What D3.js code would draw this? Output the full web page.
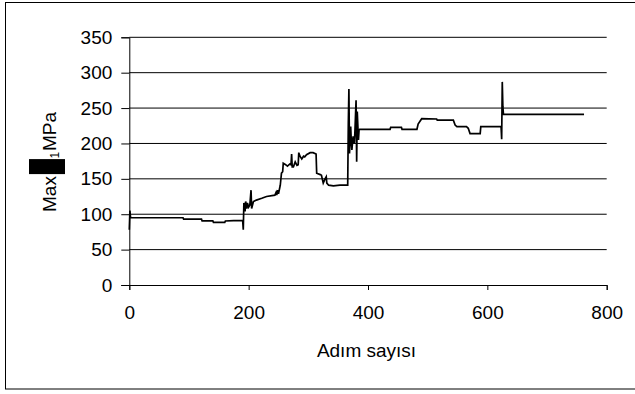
<!DOCTYPE html>
<html>
<head>
<meta charset="utf-8">
<script src="https://cdn.jsdelivr.net/npm/d3@7"></script>
<style>
  html, body { margin: 0; padding: 0; background: #fff; }
  svg { display: block; font-family: "Liberation Sans", Arial, sans-serif; }
</style>
</head>
<body>
<svg id="chart" width="635" height="394"></svg>
<script>
// Step number (Adım) and the maximum principal stress (MPa) at that step
const steps = [
  0, 1, 2, 3, 90, 91, 121, 122, 140, 141, 160, 161, 175, 190,
  191, 192, 194, 195, 197, 198, 200, 202, 204, 205, 208, 213, 222, 230,
  244, 246, 247, 249, 250, 252, 253, 255, 257, 258, 262, 265, 269, 271,
  272, 273, 275, 278, 281, 283, 284, 286, 289, 292, 294, 297, 303, 308,
  313, 314, 320, 322, 325, 328, 330, 331, 334, 342, 353, 366,
  367, 368, 369, 371, 372, 373, 375, 377, 378, 380, 381, 382, 384, 385,
  386, 437, 438, 456, 457, 482, 484, 490, 515, 516, 543, 546, 549, 565,
  568, 571, 588, 589, 623, 624, 625, 626, 627, 762
];
const stress = [
  78, 105, 96, 95, 95, 93, 93, 90.5, 90.5, 88.6, 88.6, 90.5, 91, 91,
  78, 116, 104, 118, 108, 116, 110, 113, 134, 108, 118, 120, 122.5, 125,
  127, 131, 127, 134, 129, 137, 141, 158, 160, 172, 170, 168, 171, 170,
  185, 167, 167, 174, 169, 170, 187, 182, 178, 182, 181, 184, 187, 187,
  185, 158, 156, 155, 144, 150, 153, 144, 141, 140, 141, 141,
  228, 277, 186, 224, 203, 191, 210, 200, 215, 261, 174, 245, 205, 219,
  220, 220, 222.8, 222.8, 220, 220, 227.5, 235, 234.6, 233, 233, 226, 223.7, 223.7,
  221.4, 214, 214, 223.7, 223.7, 206, 287, 252, 241, 241
];
const xTicks = [0, 200, 400, 600, 800];
const yTicks = [0, 50, 100, 150, 200, 250, 300, 350];
const xTitle = "Adım sayısı";
const yTitleParts = ["Max", "1", "MPa"];

const svg = d3.select("#chart");
const fontSize = 19;

// Outer frame of the chart area
svg.append("rect")
  .attr("x", 5.5).attr("y", 2.5)
  .attr("width", 700).attr("height", 386.5)
  .attr("fill", "none").attr("stroke", "#000").attr("stroke-width", 1);

const x = d3.scaleLinear().domain([0, 800]).range([129.3, 606.7]);
const y = d3.scaleLinear().domain([0, 350]).range([285, 37.3]);

// Horizontal gridlines
svg.append("g")
  .selectAll("line")
  .data(yTicks.filter(v => v > 0))
  .join("line")
  .attr("x1", x(0)).attr("x2", x(800))
  .attr("y1", d => y(d)).attr("y2", d => y(d))
  .attr("stroke", "#000").attr("stroke-width", 1);

// Y axis
const yAxis = svg.append("g")
  .attr("transform", `translate(${x(0)},0)`)
  .call(d3.axisLeft(y).tickValues(yTicks).tickSize(8).tickPadding(9).tickFormat(d3.format("d")));
yAxis.select(".domain").attr("stroke", "#000");
yAxis.selectAll(".tick line").attr("stroke", "#000");
yAxis.selectAll("text")
  .attr("font-size", fontSize).attr("fill", "#000")
  .attr("font-family", "Liberation Sans, Arial, sans-serif");

// X axis
const xAxis = svg.append("g")
  .attr("transform", `translate(0,${y(0)})`)
  .call(d3.axisBottom(x).tickValues(xTicks).tickSize(5).tickPadding(16).tickFormat(d3.format("d")));
xAxis.select(".domain").attr("stroke", "#000");
xAxis.selectAll(".tick line").attr("stroke", "#000");
xAxis.selectAll("text")
  .attr("font-size", fontSize).attr("fill", "#000")
  .attr("font-family", "Liberation Sans, Arial, sans-serif");

// Stress history line
const data = steps.map((s, i) => [s, stress[i]]);
svg.append("path")
  .datum(data)
  .attr("fill", "none")
  .attr("stroke", "#000")
  .attr("stroke-width", 1.7)
  .attr("stroke-linejoin", "miter")
  .attr("d", d3.line().x(d => x(d[0])).y(d => y(d[1])));

// X axis title
svg.append("text")
  .attr("x", 366.5).attr("y", 357)
  .attr("text-anchor", "middle")
  .attr("font-size", fontSize)
  .attr("fill", "#000")
  .text(xTitle);

// Y axis title: "Max", a filled symbol block, subscript "1", then "MPa"
const yt = svg.append("g").attr("transform", "translate(56,212) rotate(-90)");
const maxText = yt.append("text")
  .attr("x", 0).attr("y", 0)
  .attr("font-size", fontSize).attr("fill", "#000")
  .text(yTitleParts[0]);
const maxLen = maxText.node().getComputedTextLength();
yt.append("rect")
  .attr("x", maxLen + 2).attr("y", -27)
  .attr("width", 15).attr("height", 36)
  .attr("fill", "#000");
yt.append("text")
  .attr("x", maxLen + 17.5).attr("y", 3)
  .attr("font-size", 12).attr("fill", "#000")
  .text(yTitleParts[1]);
yt.append("text")
  .attr("x", maxLen + 25).attr("y", 0)
  .attr("font-size", fontSize).attr("fill", "#000")
  .text(yTitleParts[2]);
</script>
</body>
</html>
